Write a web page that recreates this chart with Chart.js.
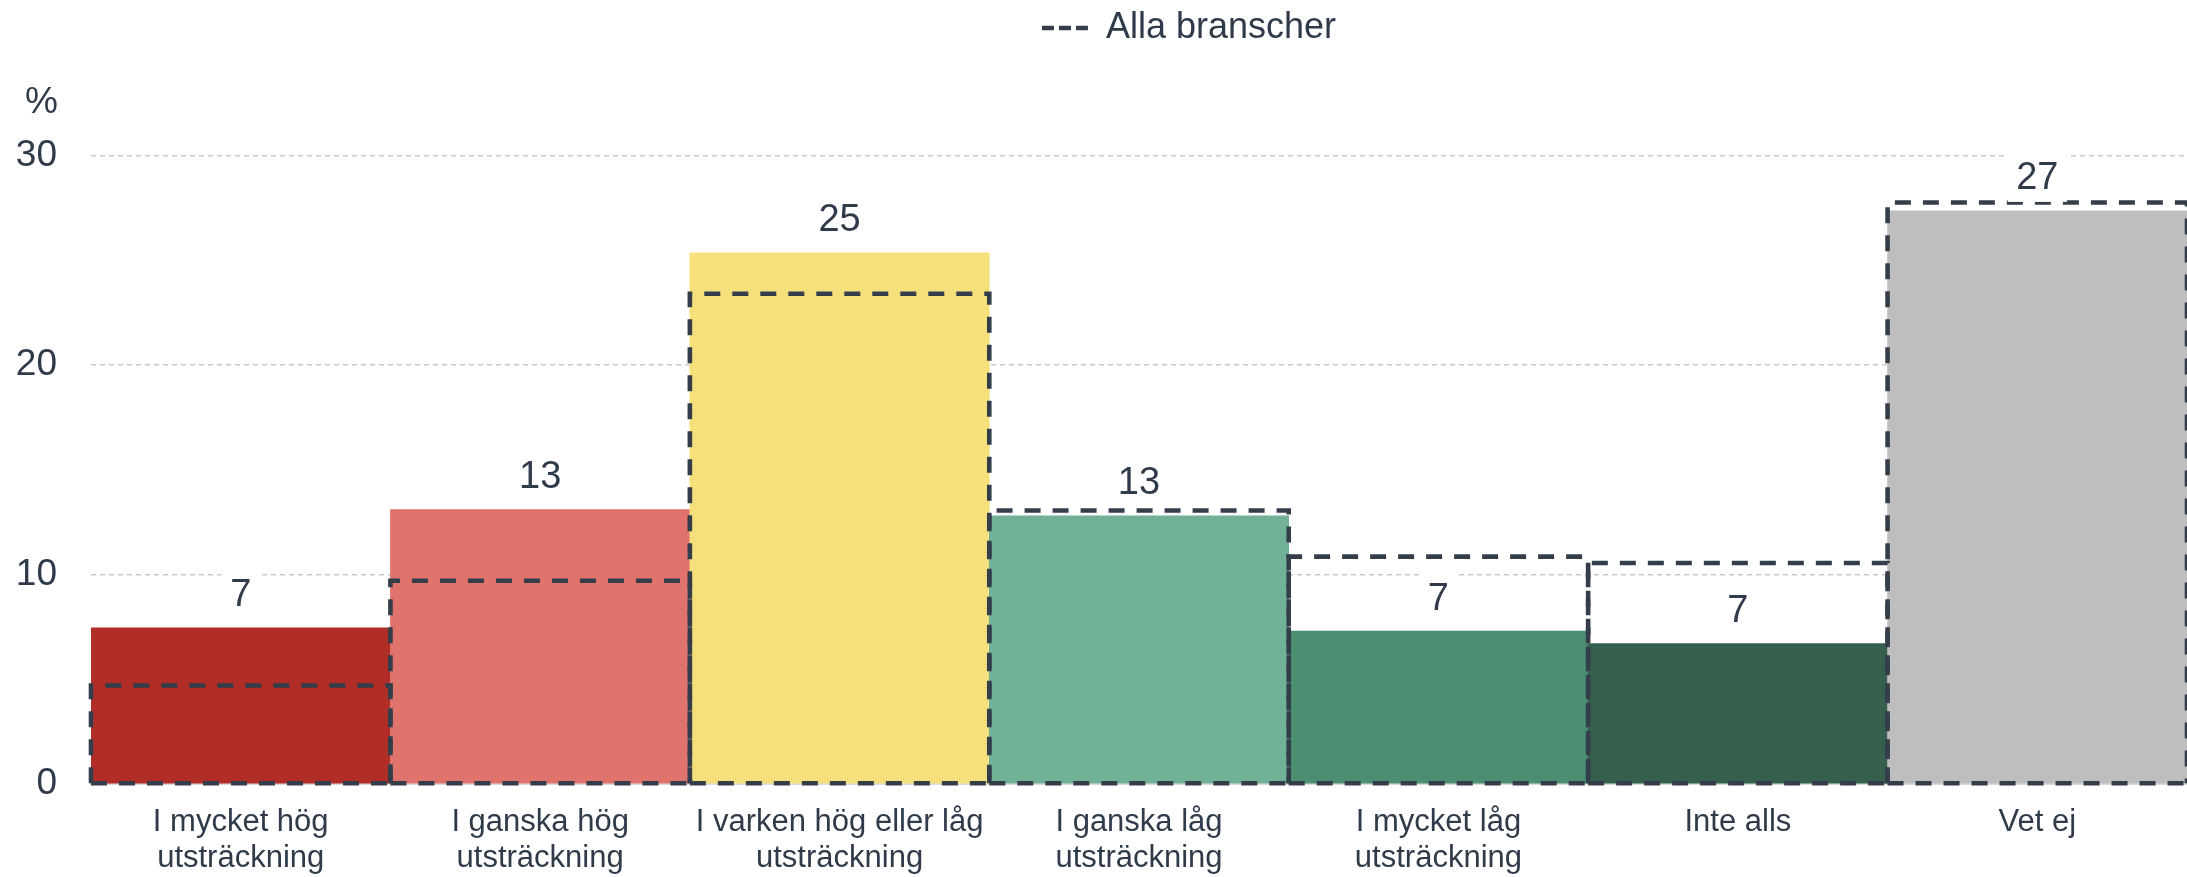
<!DOCTYPE html>
<html><head><meta charset="utf-8">
<script src="https://cdn.jsdelivr.net/npm/chart.js@4/dist/chart.umd.min.js"></script>
<style>html,body{margin:0;padding:0;background:#fff;} #wrap{width:2187px;height:877px;position:relative;}</style>
</head><body><div id="wrap"><canvas id="c"></canvas></div>
<script>
const categories = [["I mycket hög","utsträckning"],["I ganska hög","utsträckning"],["I varken hög eller låg","utsträckning"],["I ganska låg","utsträckning"],["I mycket låg","utsträckning"],"Inte alls","Vet ej"];
const branschValues = [7.45, 13.1, 25.35, 12.8, 7.3, 6.7, 27.35];
const allaBranscherValues = [4.7, 9.7, 23.4, 13.05, 10.85, 10.55, 27.75];
const barColors = ['#b02e27','#e0746d','#f5e07c','#71b297','#4c8e71','#34604d','#bebebe'];
const yTicks = [0, 10, 20, 30];
const legendLabel = 'Alla branscher';
const yUnit = '%';

const TEXT = '#2f3b4a', DASH = '#343e4b', FONT = 'Liberation Sans';

const overlay = {
  id: 'overlay',
  afterLayout(chart) {
    // place legend and unit label where the original has them
    chart.legend.left += 100;
    if (chart.titleBlock) chart.titleBlock.left += 11;
  },
  afterDatasetsDraw(chart) {
    const ctx = chart.ctx;
    const alla = chart.getDatasetMeta(1);
    ctx.save();
    ctx.strokeStyle = DASH; ctx.lineWidth = 4.6; ctx.lineCap = 'butt';
    alla.data.forEach(el => {
      const p = el.getProps(['x', 'y', 'base', 'width'], true);
      const l = p.x - p.width / 2, r = p.x + p.width / 2;
      ctx.setLineDash([16, 12]);
      ctx.beginPath();
      ctx.moveTo(l, p.base); ctx.lineTo(l, p.y); ctx.lineTo(r, p.y); ctx.lineTo(r, p.base);
      ctx.stroke();
      ctx.beginPath();
      ctx.moveTo(l, p.base); ctx.lineTo(r, p.base);
      ctx.stroke();
    });
    ctx.restore();
    const bars = chart.getDatasetMeta(0);
    ctx.save();
    ctx.font = '38px "' + FONT + '"';
    ctx.textAlign = 'center'; ctx.textBaseline = 'middle';
    bars.data.forEach((el, i) => {
      const txt = String(Math.round(chart.data.datasets[0].data[i]));
      const w = ctx.measureText(txt).width + 17;
      const cy = el.y - 34;
      ctx.fillStyle = '#fff'; ctx.fillRect(el.x - w / 2, cy - 25, w, 50);
      ctx.fillStyle = TEXT; ctx.fillText(txt, el.x, cy + 2);
    });
    ctx.restore();
  }
};

new Chart(document.getElementById('c'), {
  type: 'bar',
  data: {
    labels: categories,
    datasets: [
      {label: 'Bransch', data: branschValues, backgroundColor: barColors, borderWidth: 0, categoryPercentage: 1, barPercentage: 1, grouped: false, order: 2},
      {label: legendLabel, data: allaBranscherValues, backgroundColor: 'rgba(0,0,0,0)', borderWidth: 0, categoryPercentage: 1, barPercentage: 1, grouped: false, order: 1}
    ]
  },
  options: {
    responsive: true, maintainAspectRatio: false, animation: false,
    layout: {padding: {left: 14, right: 0, top: 0, bottom: 0}},
    plugins: {
      tooltip: {enabled: false},
      legend: {
        display: true, position: 'top', fullSize: false,
        onClick: () => {},
        labels: {
          usePointStyle: true, pointStyleWidth: 46, padding: 10,
          font: {family: FONT, size: 36}, color: TEXT,
          generateLabels: () => [{text: legendLabel, datasetIndex: 1, fillStyle: 'rgba(0,0,0,0)', strokeStyle: DASH, lineWidth: 4.6, lineDash: [12, 5], pointStyle: 'line', fontColor: TEXT, hidden: false}]
        }
      },
      title: {
        display: true, text: yUnit, align: 'start', position: 'top', weight: 500, fullSize: true,
        color: TEXT, font: {family: FONT, size: 37, weight: 'normal'}, padding: {top: 25, bottom: 30}
      }
    },
    scales: {
      x: {
        grid: {display: false, drawTicks: false},
        border: {display: true, color: '#d5dadf', width: 2},
        ticks: {color: TEXT, font: {family: FONT, size: 31, lineHeight: 1.15}, padding: 21, maxRotation: 0, autoSkip: false},
        afterFit(s) { s.height = 93; }
      },
      y: {
        min: 0, max: 30,
        afterBuildTicks(s) { s.ticks = yTicks.map(v => ({value: v})); },
        ticks: {color: TEXT, font: {family: FONT, size: 37}, padding: 34},
        grid: {color: c => (c.tick && c.tick.value === 0) ? 'rgba(0,0,0,0)' : '#c9c9c9', lineWidth: 1.5, drawTicks: false},
        border: {display: false, dash: [5, 4]},
        afterFit(s) { s.width = 77; }
      }
    }
  },
  plugins: [overlay]
});
</script>
</body></html>
